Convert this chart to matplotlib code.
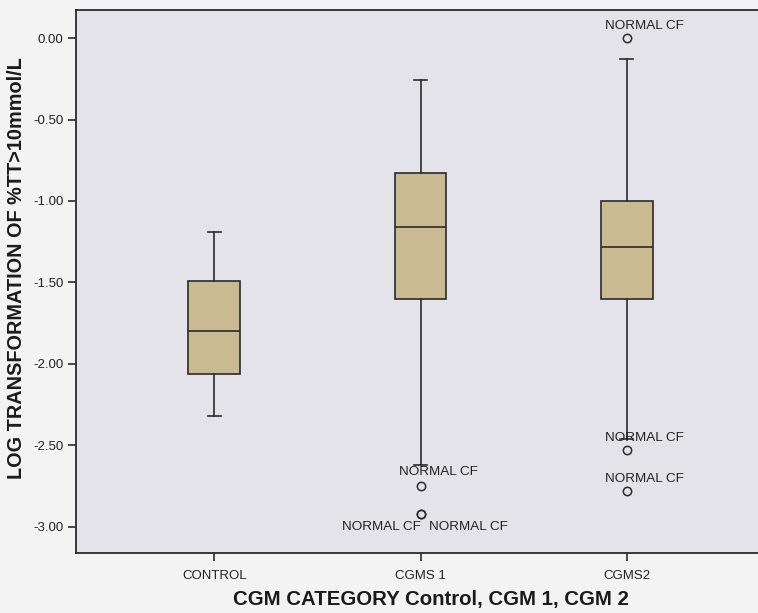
import matplotlib
matplotlib.use("Agg")
import matplotlib.pyplot as plt

plt.rcParams['font.family'] = ['Liberation Sans', 'DejaVu Sans']

categories = ["CONTROL", "CGMS 1", "CGMS2"]
whisker_low = [-2.32, -2.62, -2.46]
q1 = [-2.06, -1.60, -1.60]
median = [-1.80, -1.16, -1.28]
q3 = [-1.49, -0.83, -1.00]
whisker_high = [-1.19, -0.26, -0.13]
outliers = [[], [-2.75, -2.92, -2.92], [0.00, -2.53, -2.78]]
outlier_label = "NORMAL CF"
y_ticks = [0.0, -0.5, -1.0, -1.5, -2.0, -2.5, -3.0]
x_label = "CGM CATEGORY Control, CGM 1, CGM 2"
y_label = "LOG TRANSFORMATION OF %TT>10mmol/L"

W, H = 758, 613
fig = plt.figure(figsize=(W / 100, H / 100), dpi=100, facecolor='#f3f3f3')
ax = fig.add_axes([76 / W, (H - 553) / H, (765 - 76) / W, (553 - 10) / H])
ax.set_facecolor('#e3e3e9')

stats = []
for i, c in enumerate(categories):
    stats.append(dict(label=c, whislo=whisker_low[i], q1=q1[i], med=median[i],
                      q3=q3[i], whishi=whisker_high[i], fliers=outliers[i]))

edge = '#2b2b2b'
positions = list(range(1, len(categories) + 1))
ax.bxp(stats, positions=positions, widths=0.25, patch_artist=True,
       capwidths=0.0625,
       boxprops=dict(facecolor='#c9ba92', edgecolor=edge, linewidth=1.2),
       medianprops=dict(color=edge, linewidth=1.2),
       whiskerprops=dict(color=edge, linewidth=1.2),
       capprops=dict(color=edge, linewidth=1.2),
       flierprops=dict(marker='o', markersize=6, markerfacecolor='none',
                       markeredgecolor=edge, markeredgewidth=1.1))

# outlier labels
lab_kw = dict(fontsize=9.7, color='#222222', textcoords='offset pixels')
for i, vals in enumerate(outliers):
    x = positions[i]
    if i == 1:
        ax.annotate(outlier_label, (x, vals[0]), xytext=(-22, 8), ha='left', va='bottom', **lab_kw)
        ax.annotate(outlier_label, (x, vals[1]), xytext=(0, -7), ha='right', va='top', **lab_kw)
        ax.annotate(outlier_label, (x, vals[2]), xytext=(8, -7), ha='left', va='top', **lab_kw)
    else:
        for v in vals:
            ax.annotate(outlier_label, (x, v), xytext=(-22, 6), ha='left', va='bottom', **lab_kw)

ax.set_xlim(0.33, 3.67)
ax.set_ylim(-3.16, 0.172)
ax.set_yticks(y_ticks)
ax.set_yticklabels([f"{t:.2f}" for t in y_ticks])
ax.set_xticks(positions)
ax.set_xticklabels(categories)
ax.tick_params(axis='both', direction='out', length=6, width=1.2, colors=edge,
               labelsize=9.5, labelcolor='#222222', pad=3)
ax.tick_params(axis='x', pad=6)

for side in ['left', 'bottom', 'top']:
    ax.spines[side].set_color(edge)
    ax.spines[side].set_linewidth(1.3)
ax.spines['right'].set_visible(False)

fig.text(233 / W, 1 - 600 / H, x_label, ha='left', va='center',
         fontsize=14.7, fontweight='bold', color='#1a1a1a')
fig.text(17 / W, 1 - 268 / H, y_label, ha='center', va='center', rotation=90,
         fontsize=14.3, fontweight='bold', color='#1a1a1a')

fig.savefig('out.png', dpi=100, facecolor=fig.get_facecolor())
